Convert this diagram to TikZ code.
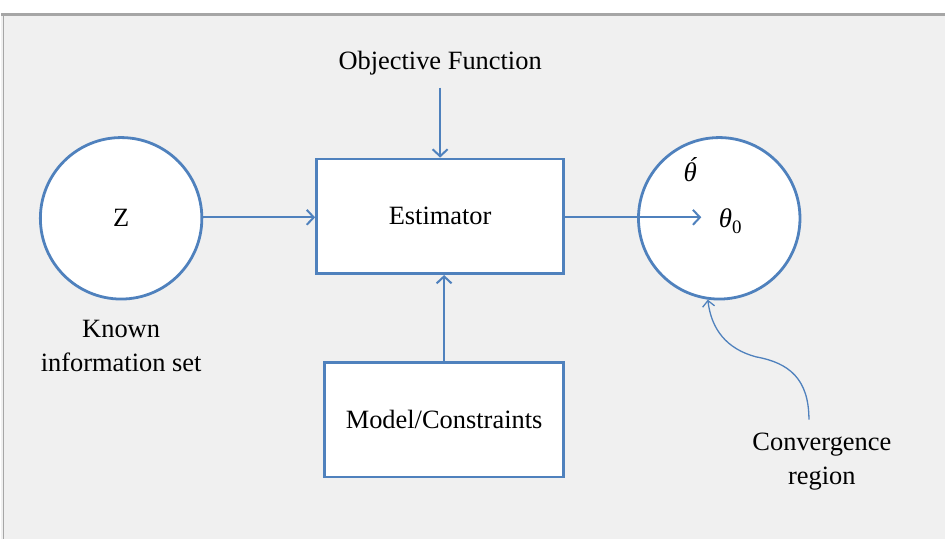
\documentclass[tikz,border=0pt]{standalone}
\usepackage{fontspec}
\setmainfont{Liberation Serif}
\usetikzlibrary{arrows.meta}
\definecolor{edgeblue}{HTML}{4F81BD}
\definecolor{pagegrey}{HTML}{F0F0F0}
\definecolor{rulegrey}{HTML}{A6A6A6}

\begin{document}
\begin{tikzpicture}[x=1pt,y=-1pt,
  font=\fontsize{26.5}{34}\selectfont,
  blob/.style={circle,draw=edgeblue,fill=white,line width=2.8pt,minimum size=162pt,inner sep=0pt},
  block/.style={rectangle,draw=edgeblue,fill=white,line width=2.8pt,minimum width=#1,minimum height=115pt},
  txt/.style={align=center,inner sep=0pt},
  greek/.style={inner sep=0pt,font=\fontsize{27}{27}\selectfont\itshape},
  link/.style={draw=edgeblue,line width=2pt,-{Straight Barb[length=7pt,width=15pt,line width=2pt]}}]
\fill[pagegrey] (0,0) rectangle (946,541);
\fill[white] (0,0) rectangle (946,13);
\draw[rulegrey,line width=3pt] (0,14.5) -- (946,14.5);
\draw[rulegrey,line width=1.2pt] (2,14) -- (2,541);
\useasboundingbox (0,0) rectangle (946,541);
\node [blob] (z) at (120,219) {Z};
\node [txt] (known) at (120,347) {Known\\information set};
\node [block=248pt] (est) at (440,217) {Estimator};
\node [txt] (obj) at (440,63) {Objective Function};
\node [block=240pt] (model) at (444,421) {Model/Constraints};
\node [blob] (conv) at (720,219) {};
\node [greek] (theta) at (691,170) {θ́};
\node [greek] (theta0) at (731,222) {θ\raisebox{-6pt}{\upshape\fontsize{19}{19}\selectfont 0}};
\coordinate (tip) at (702,218);
\node [txt] (region) at (823,463) {Convergence\\region};
\draw [link] (z.east |- tip) -- (est.west |- tip);
\draw [link] (obj.south |- 0,88) -- (est.north);
\draw [link] (model.north) -- (model.north |- est.south);
\draw [link] (est.east |- tip) -- (tip);
\draw [link,line width=1.3pt,-{Straight Barb[length=6pt,width=12pt,line width=1.3pt]}]
  (810,421) .. controls (810,380) and (790,364) .. (757,358)
  .. controls (727,350) and (712,330) .. (conv.-98);
\end{tikzpicture}
\end{document}
